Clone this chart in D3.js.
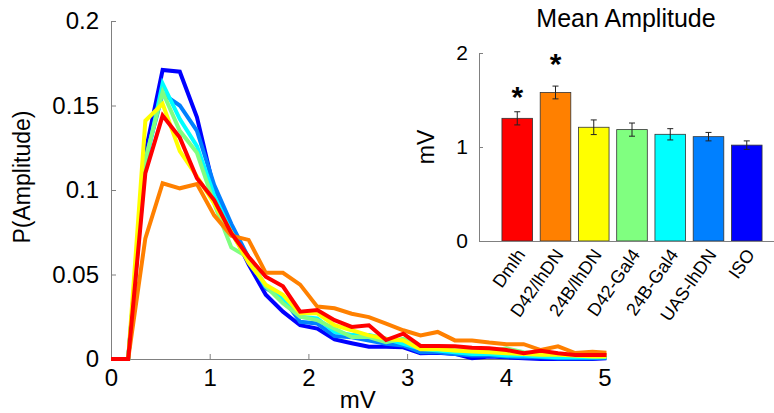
<!DOCTYPE html>
<html>
<head>
<meta charset="utf-8">
<script src="https://cdnjs.cloudflare.com/ajax/libs/d3/7.8.5/d3.min.js"></script>
<style>
  body { margin: 0; background: #fff; }
  svg text { font-family: "Liberation Sans", Arial, sans-serif; fill: #000; }
</style>
</head>
<body>
<script>
// amplitude histogram bins (mV)
const BIN_MV = [0, 0.174, 0.348, 0.523, 0.697, 0.871, 1.045, 1.219, 1.394, 1.568,
  1.742, 1.916, 2.090, 2.265, 2.439, 2.613, 2.787, 2.961, 3.136, 3.310,
  3.484, 3.658, 3.832, 4.007, 4.181, 4.355, 4.529, 4.703, 4.878, 5.052];

const P_DMLH = [0, 0, 0.110, 0.144, 0.131, 0.107, 0.094, 0.0745, 0.0605, 0.0487,
  0.043, 0.028, 0.029, 0.023, 0.019, 0.020, 0.0112, 0.015, 0.0077, 0.0077,
  0.0075, 0.0067, 0.0063, 0.0053, 0.0034, 0.0049, 0.0034, 0.0024, 0.0024, 0.0024];
const P_D42_LHDN = [0, 0, 0.0714, 0.104, 0.101, 0.1035, 0.085, 0.073, 0.0705, 0.051,
  0.051, 0.044, 0.031, 0.030, 0.0268, 0.0248, 0.021, 0.017, 0.014, 0.016,
  0.011, 0.011, 0.0097, 0.0088, 0.0088, 0.0053, 0.0075, 0.0035, 0.0043, 0.0035];
const P_24B_LHDN = [0, 0, 0.141, 0.151, 0.123, 0.108, 0.092, 0.075, 0.057, 0.044,
  0.038, 0.027, 0.027, 0.020, 0.017, 0.014, 0.012, 0.011, 0.0057, 0.0057,
  0.005, 0.0045, 0.004, 0.0034, 0.003, 0.0025, 0.0025, 0.002, 0.0015, 0.0015];
const P_D42_GAL4 = [0, 0, 0.118, 0.158, 0.135, 0.122, 0.092, 0.066, 0.060, 0.043,
  0.033, 0.025, 0.023, 0.018, 0.013, 0.013, 0.010, 0.012, 0.007, 0.006,
  0.005, 0.005, 0.0045, 0.0063, 0.004, 0.003, 0.003, 0.002, 0.002, 0.002];
const P_24B_GAL4 = [0, 0, 0.115, 0.163, 0.142, 0.126, 0.097, 0.075, 0.058, 0.043,
  0.036, 0.025, 0.024, 0.016, 0.0142, 0.0142, 0.012, 0.009, 0.006, 0.005,
  0.004, 0.003, 0.003, 0.002, 0.002, 0.0015, 0.001, 0.001, 0.001, 0.001];
const P_UAS_LHDN = [0, 0, 0.118, 0.157, 0.150, 0.135, 0.103, 0.080, 0.060, 0.042,
  0.036, 0.022, 0.021, 0.0136, 0.0128, 0.011, 0.009, 0.008, 0.004, 0.004,
  0.003, 0.002, 0.002, 0.0015, 0.001, 0.001, 0.0005, 0.0005, 0.0005, 0.001];
const P_ISO = [0, 0, 0.122, 0.171, 0.170, 0.143, 0.100, 0.077, 0.056, 0.038,
  0.028, 0.020, 0.018, 0.0116, 0.0093, 0.0072, 0.0073, 0.0069, 0.0034, 0.0037,
  0.003, 0.0005, 0.0015, 0.001, 0.0005, 0, 0, 0, 0, 0.0005];

// inset: mean amplitude per genotype
const GROUPS = ["Dmlh", "D42/lhDN", "24B/lhDN", "D42-Gal4", "24B-Gal4", "UAS-lhDN", "ISO"];
const MEAN_AMP = [1.305, 1.58, 1.21, 1.185, 1.135, 1.11, 1.02];
const SEM_AMP = [0.07, 0.068, 0.078, 0.07, 0.06, 0.045, 0.045];
const STAR_GROUPS = ["Dmlh", "D42/lhDN"];
const STAR_LEVEL = [1.606, 1.957];

const X_TICKS = [0, 1, 2, 3, 4, 5];
const Y_TICKS = [0, 0.05, 0.1, 0.15, 0.2];
const BAR_TICKS = [0, 1, 2];

const COLORS = ["#ff0000", "#ff8000", "#ffff00", "#80ff80", "#00ffff", "#0080ff", "#0000ff"];
const AXIS_GREY = "#808080";

const SERIES = [P_DMLH, P_D42_LHDN, P_24B_LHDN, P_D42_GAL4, P_24B_GAL4, P_UAS_LHDN, P_ISO]
  .map((vals, i) => ({
    name: GROUPS[i],
    color: COLORS[i],
    points: vals.map((p, j) => ({ mv: BIN_MV[j], p: p }))
  }));

const width = 774,
  height = 413;

const svg = d3
  .select("body")
  .append("svg")
  .attr("width", width)
  .attr("height", height);

// ---- main histogram ----
const x = d3.scaleLinear().domain([0, 5]).range([111, 604.5]);
const y = d3.scaleLinear().domain([0, 0.2]).range([359, 21]);

svg
  .append("clipPath")
  .attr("id", "plot-clip")
  .append("rect")
  .attr("x", 0)
  .attr("y", 0)
  .attr("width", x(5) + 2)
  .attr("height", height);

const styleAxis = (g, size) => {
  g.select(".domain").attr("stroke", AXIS_GREY);
  g.selectAll(".tick line").attr("stroke", AXIS_GREY);
  g.selectAll(".tick text")
    .attr("fill", "#000")
    .style("font-size", size + "px")
    .style("font-family", '"Liberation Sans", Arial, sans-serif');
};

svg
  .append("g")
  .attr("transform", `translate(0, ${y(0)})`)
  .call(
    d3.axisBottom(x)
      .tickValues(X_TICKS)
      .tickSize(-5)
      .tickSizeOuter(0)
      .tickPadding(10)
      .tickFormat(d => String(d))
  )
  .call(g => styleAxis(g, 24));

svg
  .append("g")
  .attr("transform", `translate(${x(0)}, 0)`)
  .call(
    d3.axisLeft(y)
      .tickValues(Y_TICKS)
      .tickSize(-5)
      .tickSizeOuter(0)
      .tickPadding(12)
      .tickFormat(d => String(d))
  )
  .call(g => styleAxis(g, 24));

const line = d3
  .line()
  .x(d => x(d.mv))
  .y(d => y(d.p));

// ISO drawn first, Dmlh ends up on top
svg
  .append("g")
  .attr("clip-path", "url(#plot-clip)")
  .selectAll("path")
  .data(SERIES.slice().reverse())
  .enter()
  .append("path")
  .attr("d", d => line(d.points))
  .attr("fill", "none")
  .attr("stroke", d => d.color)
  .attr("stroke-width", 4)
  .attr("stroke-linejoin", "miter");

svg
  .append("text")
  .attr("x", (x(0) + x(5)) / 2)
  .attr("y", 408)
  .attr("text-anchor", "middle")
  .style("font-size", "24px")
  .text("mV");

svg
  .append("text")
  .attr("transform", "translate(22, 177) rotate(-90)")
  .attr("dy", "0.35em")
  .attr("text-anchor", "middle")
  .style("font-size", "23px")
  .text("P(Amplitude)");

// ---- inset bar chart ----
const bx = d3.scaleLinear().domain([0, 8]).range([479, 785]);
const by = d3.scaleLinear().domain([0, 2]).range([241, 53]);
const barW = (bx(0.8) - bx(0));

const inset = svg.append("g");

inset
  .selectAll("rect")
  .data(GROUPS)
  .enter()
  .append("rect")
  .attr("x", (d, i) => bx(i + 1) - barW / 2)
  .attr("y", (d, i) => by(MEAN_AMP[i]))
  .attr("width", barW)
  .attr("height", (d, i) => by(0) - by(MEAN_AMP[i]))
  .attr("fill", (d, i) => COLORS[i])
  .attr("stroke", "#333")
  .attr("stroke-width", 0.8);

const errG = inset
  .selectAll("g.err")
  .data(GROUPS)
  .enter()
  .append("g")
  .attr("class", "err")
  .attr("stroke", "#222")
  .attr("stroke-width", 1);

errG.append("line")
  .attr("x1", (d, i) => bx(i + 1))
  .attr("x2", (d, i) => bx(i + 1))
  .attr("y1", (d, i) => by(MEAN_AMP[i] - SEM_AMP[i]))
  .attr("y2", (d, i) => by(MEAN_AMP[i] + SEM_AMP[i]));
[-1, 1].forEach(s => {
  errG.append("line")
    .attr("x1", (d, i) => bx(i + 1) - 3)
    .attr("x2", (d, i) => bx(i + 1) + 3)
    .attr("y1", (d, i) => by(MEAN_AMP[i] + s * SEM_AMP[i]))
    .attr("y2", (d, i) => by(MEAN_AMP[i] + s * SEM_AMP[i]));
});

inset
  .append("g")
  .attr("transform", `translate(${bx(0)}, 0)`)
  .call(
    d3.axisLeft(by)
      .tickValues(BAR_TICKS)
      .tickSize(-4)
      .tickSizeOuter(0)
      .tickPadding(11)
      .tickFormat(d => String(d))
  )
  .call(g => styleAxis(g, 21));

const xg = inset
  .append("g")
  .attr("transform", `translate(0, ${by(0)})`)
  .call(
    d3.axisBottom(bx)
      .tickValues(d3.range(1, GROUPS.length + 1))
      .tickFormat(i => GROUPS[i - 1])
      .tickSize(0)
      .tickSizeOuter(0)
  )
  .call(g => styleAxis(g, 18));

xg.selectAll(".tick text")
  .attr("x", 0)
  .attr("y", 0)
  .attr("dy", "0.35em")
  .attr("text-anchor", "end")
  .attr("transform", "translate(3, 10) rotate(-55)");

inset
  .selectAll("text.star")
  .data(STAR_GROUPS)
  .enter()
  .append("text")
  .attr("class", "star")
  .attr("x", d => bx(GROUPS.indexOf(d) + 1))
  .attr("y", (d, i) => by(STAR_LEVEL[i]) + 17)
  .attr("text-anchor", "middle")
  .style("font-size", "30px")
  .style("font-weight", "bold")
  .text("*");

inset
  .append("text")
  .attr("x", 626)
  .attr("y", 27)
  .attr("text-anchor", "middle")
  .style("font-size", "25px")
  .text("Mean Amplitude");

inset
  .append("text")
  .attr("transform", `translate(426, ${by(1)}) rotate(-90)`)
  .attr("dy", "0.35em")
  .attr("text-anchor", "middle")
  .style("font-size", "23px")
  .text("mV");
</script>
</body>
</html>
